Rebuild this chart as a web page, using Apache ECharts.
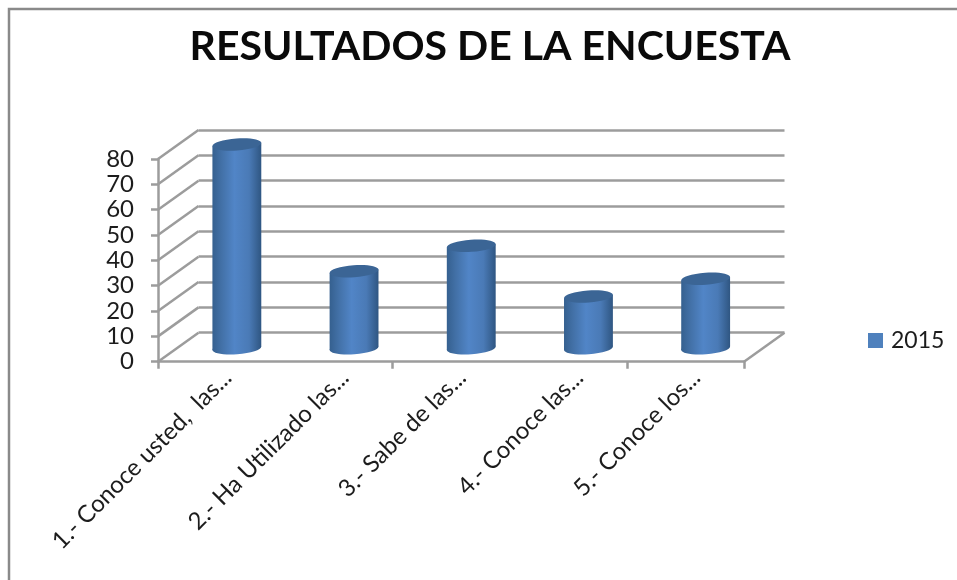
<!DOCTYPE html>
<html>
<head>
<meta charset="utf-8">
<title>Resultados de la encuesta</title>
<script src="https://cdn.jsdelivr.net/npm/echarts@6/dist/echarts.min.js"></script>
<style>
	html, body { margin: 0; padding: 0; background: #fff; }
	#chart { width: 957px; height: 580px; }
</style>
</head>
<body>
<div id="chart"></div>
<script>
var titleText = 'RESULTADOS DE LA ENCUESTA';
var seriesName = '2015';
var categories = ['1.- Conoce usted,  las...', '2.- Ha Utilizado las...', '3.- Sabe de las...', '4.- Conoce las...', '5.- Conoce los...'];
var values2015 = [80, 30, 40, 20, 27];
var yTicks = [0, 10, 20, 30, 40, 50, 60, 70, 80];

// plano frontal y desplazamiento de la pared del fondo
var front = { left: 158, top: 159, width: 586, height: 202.7 };
var depthX = 40.5;
var depthY = -29;
var lineColor = '#9c9c9c';
var lineWidth = 2.5;
var textColor = '#1c1c1c';
var fontName = 'Lato';

function wallLine(params, api) {
	var p = api.coord([0, api.value(1)]);
	var x = params.coordSys.x;
	return {
		type: 'line',
		shape: { x1: x, y1: p[1], x2: x + depthX, y2: p[1] + depthY },
		style: { stroke: lineColor, lineWidth: lineWidth }
	};
}

function floorLine(params, api) {
	var p = api.coord([0, 0]);
	var x = params.coordSys.x + params.coordSys.width;
	return {
		type: 'line',
		shape: { x1: x, y1: p[1], x2: x + depthX, y2: p[1] + depthY },
		style: { stroke: lineColor, lineWidth: lineWidth }
	};
}

function cylinder(params, api) {
	var top = api.coord([api.value(0), api.value(1)]);
	var base = api.coord([api.value(0), 0]);
	var rx = api.size([1, 0])[0] * 0.209;
	var ry = 6;
	var tilt = 0.07;
	var dx = rx * Math.cos(tilt);
	var dy = rx * Math.sin(tilt);
	var cx = top[0] + depthX / 2;
	var cyTop = top[1] + depthY / 2;
	var cyBase = base[1] + depthY / 2 + 1;
	var side = {
		type: 'linear', x: 0, y: 0, x2: 1, y2: 0,
		colorStops: [
			{ offset: 0, color: '#35608f' },
			{ offset: 0.18, color: '#4270a6' },
			{ offset: 0.45, color: '#5185c7' },
			{ offset: 0.75, color: '#4a7ab6' },
			{ offset: 1, color: '#2f5682' }
		]
	};
	return {
		type: 'group',
		children: [{
			type: 'ellipse',
			originX: cx,
			originY: cyBase,
			rotation: tilt,
			shape: { cx: cx, cy: cyBase, rx: rx, ry: ry },
			style: { fill: side }
		}, {
			type: 'polygon',
			shape: {
				points: [
					[cx - dx, cyTop + dy],
					[cx + dx, cyTop - dy],
					[cx + dx, cyBase - dy],
					[cx - dx, cyBase + dy]
				]
			},
			style: { fill: side }
		}, {
			type: 'ellipse',
			originX: cx,
			originY: cyTop,
			rotation: tilt,
			shape: { cx: cx, cy: cyTop, rx: rx, ry: ry },
			style: { fill: '#3b6595' }
		}]
	};
}

var myChart = echarts.init(document.getElementById('chart'));

var option = {
	animation: false,
	backgroundColor: '#fff',
	title: {
		text: titleText,
		left: 485,
		top: 21,
		textAlign: 'center',
		textStyle: { fontFamily: fontName, fontSize: 41, fontWeight: 'bold', color: '#0a0a0a' }
	},
	legend: {
		left: 868,
		top: 329,
		padding: 0,
		itemWidth: 15,
		itemHeight: 15,
		textStyle: { fontFamily: fontName, fontSize: 23, color: textColor, padding: [0, 0, 0, 3] },
		data: [{ name: seriesName, icon: 'rect', itemStyle: { color: '#4f81bd' } }]
	},
	graphic: [{
		type: 'polyline',
		shape: { points: [[9, 580], [9, 9], [957, 9]] },
		style: { fill: 'none', stroke: '#8a8a8a', lineWidth: 2.5 }
	}],
	grid: [
		front,
		{ left: front.left + depthX, top: front.top + depthY, width: front.width, height: front.height },
		{ left: front.left + 11, top: front.top, width: front.width, height: front.height }
	],
	xAxis: [{
		gridIndex: 0,
		type: 'category',
		data: categories,
		axisLine: { lineStyle: { color: lineColor, width: lineWidth } },
		axisTick: { show: true, length: 7, lineStyle: { color: lineColor, width: lineWidth } },
		axisLabel: { show: false }
	}, {
		gridIndex: 1,
		type: 'category',
		data: categories,
		show: false
	}, {
		gridIndex: 2,
		type: 'category',
		data: categories,
		axisLine: { show: false },
		axisTick: { show: false },
		axisLabel: {
			interval: 0,
			rotate: 45,
			margin: 12,
			fontFamily: fontName,
			fontSize: 24,
			color: textColor
		}
	}],
	yAxis: [{
		gridIndex: 0,
		type: 'value',
		min: 0,
		max: 80,
		interval: 10,
		axisLine: { show: true, lineStyle: { color: lineColor, width: lineWidth } },
		axisTick: { show: true, length: 7, lineStyle: { color: lineColor, width: lineWidth } },
		axisLabel: { margin: 24, padding: [6, 0, 0, 0], fontFamily: fontName, fontSize: 24, color: textColor },
		splitLine: { show: false }
	}, {
		gridIndex: 1,
		type: 'value',
		min: 0,
		max: 80,
		interval: 10,
		axisLine: { show: false },
		axisTick: { show: false },
		axisLabel: { show: false },
		splitLine: { show: true, lineStyle: { color: lineColor, width: lineWidth } }
	}, {
		gridIndex: 2,
		type: 'value',
		min: 0,
		max: 80,
		show: false
	}],
	series: [{
		name: 'pared',
		type: 'custom',
		xAxisIndex: 0,
		yAxisIndex: 0,
		silent: true,
		clip: false,
		z: 1,
		encode: { x: 0, y: 1 },
		renderItem: wallLine,
		data: yTicks.map(function(t) { return [0, t]; })
	}, {
		name: 'suelo',
		type: 'custom',
		xAxisIndex: 0,
		yAxisIndex: 0,
		silent: true,
		clip: false,
		z: 1,
		encode: { x: 0, y: 1 },
		renderItem: floorLine,
		data: [[0, 0]]
	}, {
		name: seriesName,
		type: 'custom',
		xAxisIndex: 0,
		yAxisIndex: 0,
		clip: false,
		z: 5,
		encode: { x: 0, y: 1 },
		renderItem: cylinder,
		data: values2015.map(function(v, i) { return [i, v]; })
	}]
};

myChart.setOption(option);
</script>
</body>
</html>
